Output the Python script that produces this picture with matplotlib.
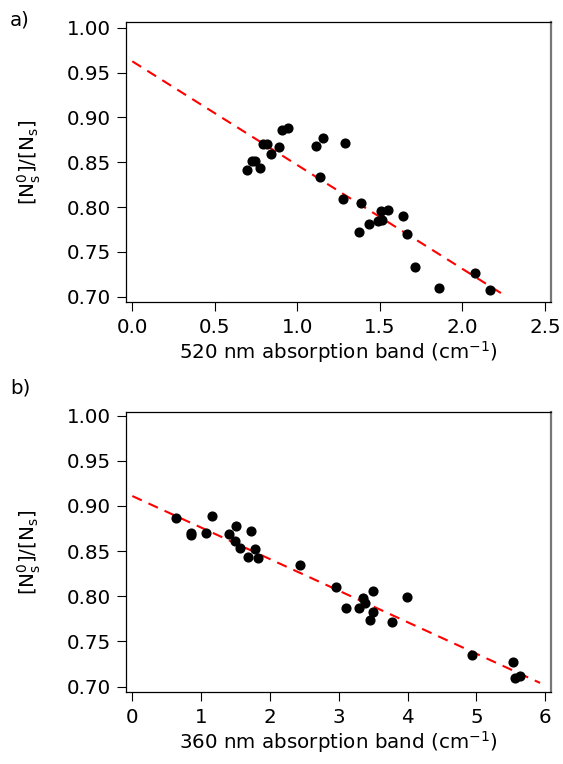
import matplotlib
matplotlib.use("Agg")
import matplotlib.pyplot as plt
import numpy as np

plt.rcParams['font.family'] = ['DejaVu Sans']
plt.rcParams['mathtext.fontset'] = 'dejavusans'
plt.rcParams['mathtext.default'] = 'regular'

# Panel a: 520 nm absorption band
a_x = [0.697, 0.723, 0.745, 0.775, 0.790, 0.814, 0.840, 0.887, 0.905, 0.941,
       1.111, 1.155, 1.286, 1.139, 1.274, 1.383, 1.375, 1.434, 1.486, 1.511,
       1.506, 1.547, 1.638, 1.662, 1.710, 1.859, 2.074, 2.167]
a_y = [0.841, 0.851, 0.851, 0.843, 0.870, 0.870, 0.859, 0.867, 0.886, 0.888,
       0.868, 0.877, 0.871, 0.833, 0.809, 0.804, 0.772, 0.781, 0.785, 0.786,
       0.796, 0.797, 0.790, 0.770, 0.733, 0.710, 0.726, 0.707]
a_fit_x = [0.0, 2.268]
a_fit_y = [0.9625, 0.700]

# Panel b: 360 nm absorption band
b_x = [0.640, 0.858, 0.858, 1.076, 1.163, 1.410, 1.507, 1.488, 1.570, 1.730,
       1.788, 1.677, 1.831, 2.442, 2.956, 3.110, 3.291, 3.353, 3.378, 3.503,
       3.494, 3.455, 3.779, 3.988, 4.942, 5.529, 5.558, 5.640]
b_y = [0.887, 0.870, 0.868, 0.870, 0.889, 0.869, 0.878, 0.861, 0.853, 0.872,
       0.852, 0.844, 0.842, 0.835, 0.810, 0.787, 0.787, 0.798, 0.792, 0.806,
       0.783, 0.774, 0.771, 0.799, 0.735, 0.727, 0.709, 0.712]
b_fit_x = [0.0, 5.926]
b_fit_y = [0.911, 0.704]

y_ticks = [0.70, 0.75, 0.80, 0.85, 0.90, 0.95, 1.00]
a_xticks = [0.0, 0.5, 1.0, 1.5, 2.0, 2.5]
b_xticks = [0, 1, 2, 3, 4, 5, 6]

W, H = 563, 764
fig = plt.figure(figsize=(W / 100, H / 100), dpi=100)

def make_ax(left, top, right, bottom):
    return fig.add_axes([left / W, 1 - bottom / H, (right - left) / W, (bottom - top) / H])

ax_a = make_ax(126, 22.3, 551, 302.3)
ax_b = make_ax(126, 411.7, 551, 692.3)

def style(ax, xs, ys, fx, fy, xticks, xlim, ylim, xfmt, xlabel):
    ax.plot(fx, fy, color='#ff0000', lw=1.5, dashes=(5, 3.5), zorder=2)
    ax.plot(xs, ys, 'o', color='black', ms=6.3, mec='black', zorder=3)
    ax.set_xlim(*xlim)
    ax.set_ylim(*ylim)
    ax.set_xticks(xticks)
    ax.set_xticklabels([xfmt.format(v) for v in xticks])
    ax.set_yticks(y_ticks)
    ax.set_yticklabels(['{:.2f}'.format(v) for v in y_ticks])
    ax.tick_params(axis='both', direction='out', length=6.5, width=0.8,
                   labelsize=14.3, pad=4.5, colors='black', top=False, right=False)
    for s in ['left', 'top', 'bottom']:
        ax.spines[s].set_linewidth(0.9)
        ax.spines[s].set_color('black')
    ax.spines['right'].set_linewidth(1.6)
    ax.spines['right'].set_color('#777777')
    ax.set_xlabel(xlabel, fontsize=14.3, labelpad=2)
    ax.set_ylabel(r'[N$_s^0$]/[N$_s$]', fontsize=14.3)
    ax.yaxis.set_label_coords(-0.195, 0.5)

style(ax_a, a_x, a_y, a_fit_x, a_fit_y, a_xticks, (-0.038, 2.536), (0.6938, 1.006),
      '{:.1f}', r'520 nm absorption band (cm$^{-1}$)')
style(ax_b, b_x, b_y, b_fit_x, b_fit_y, b_xticks, (-0.092, 6.085), (0.6936, 1.0044),
      '{:d}', r'360 nm absorption band (cm$^{-1}$)')

fig.text(10 / W, 1 - 25 / H, 'a)', fontsize=14.3, va='baseline', ha='left')
fig.text(10 / W, 1 - 393 / H, 'b)', fontsize=14.3, va='baseline', ha='left')

fig.savefig('out.png', dpi=100)
